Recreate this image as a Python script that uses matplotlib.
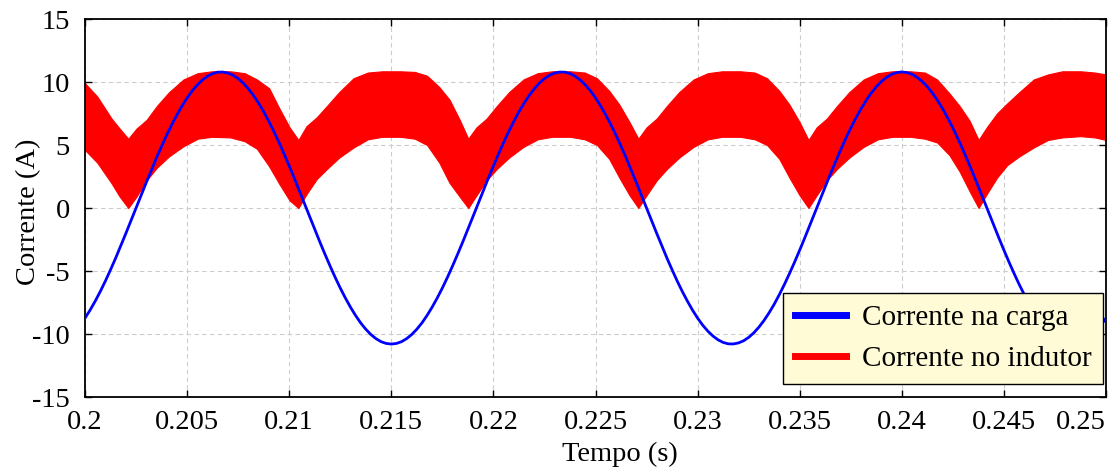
import numpy as np
import matplotlib
matplotlib.use("Agg")
import matplotlib.pyplot as plt
from matplotlib.lines import Line2D

plt.rcParams['font.family'] = ['Liberation Serif', 'DejaVu Serif']
plt.rcParams['axes.unicode_minus'] = False

# corrente na carga (A), amostras a cada 0.25 ms de 0.2 s a 0.25 s
load_t = np.linspace(0.2, 0.25, 201)
load_i = [-8.74, -8.10, -7.39, -6.62, -5.79, -4.90, -3.98, -3.01, -2.02, -1.02, 0.0, 1.02, 2.02, 3.01, 3.98, 4.90, 5.79, 6.62, 7.39, 8.10,
          8.74, 9.30, 9.77, 10.16, 10.46, 10.67, 10.78, 10.79, 10.71, 10.54, 10.27, 9.91, 9.46, 8.93, 8.32, 7.64, 6.88, 6.07, 5.20, 4.29,
          3.34, 2.36, 1.35, 0.34, -0.68, -1.69, -2.69, -3.66, -4.60, -5.50, -6.35, -7.14, -7.87, -8.53, -9.12, -9.62, -10.04, -10.37, -10.61, -10.75,
          -10.80, -10.75, -10.61, -10.37, -10.04, -9.62, -9.12, -8.53, -7.87, -7.14, -6.35, -5.50, -4.60, -3.66, -2.69, -1.69, -0.68, 0.34, 1.35, 2.36,
          3.34, 4.29, 5.20, 6.07, 6.88, 7.64, 8.32, 8.93, 9.46, 9.91, 10.27, 10.54, 10.71, 10.79, 10.78, 10.67, 10.46, 10.16, 9.77, 9.30,
          8.74, 8.10, 7.39, 6.62, 5.79, 4.90, 3.98, 3.01, 2.02, 1.02, 0.0, -1.02, -2.02, -3.01, -3.98, -4.90, -5.79, -6.62, -7.39, -8.10,
          -8.74, -9.30, -9.77, -10.16, -10.46, -10.67, -10.78, -10.79, -10.71, -10.54, -10.27, -9.91, -9.46, -8.93, -8.32, -7.64, -6.88, -6.07, -5.20, -4.29,
          -3.34, -2.36, -1.35, -0.34, 0.68, 1.69, 2.69, 3.66, 4.60, 5.50, 6.35, 7.14, 7.87, 8.53, 9.12, 9.62, 10.04, 10.37, 10.61, 10.75,
          10.80, 10.75, 10.61, 10.37, 10.04, 9.62, 9.12, 8.53, 7.87, 7.14, 6.35, 5.50, 4.60, 3.66, 2.69, 1.69, 0.68, -0.34, -1.35, -2.36,
          -3.34, -4.29, -5.20, -6.07, -6.88, -7.64, -8.32, -8.93, -9.46, -9.91, -10.27, -10.54, -10.71, -10.79, -10.78, -10.67, -10.46, -10.16, -9.77, -9.30,
          -8.74]

# corrente no indutor: envoltoria superior / inferior do ripple
ind_t = [0.2000, 0.2006, 0.2013, 0.2017,
         0.20212, 0.20252, 0.20302, 0.20352, 0.20412, 0.20482, 0.20552, 0.20622, 0.20712, 0.20782, 0.20842, 0.20902, 0.20952, 0.21002,
         0.21045, 0.21085, 0.21135, 0.21185, 0.21245, 0.21315, 0.21385, 0.21455, 0.21545, 0.21615, 0.21675, 0.21735, 0.21785, 0.21835,
         0.21877, 0.21917, 0.21967, 0.22017, 0.22077, 0.22147, 0.22217, 0.22287, 0.22377, 0.22447, 0.22507, 0.22567, 0.22617, 0.22667,
         0.22710, 0.22750, 0.22800, 0.22850, 0.22910, 0.22980, 0.23050, 0.23120, 0.23210, 0.23280, 0.23340, 0.23400, 0.23450, 0.23500,
         0.23543, 0.23583, 0.23633, 0.23683, 0.23743, 0.23813, 0.23883, 0.23953, 0.24043, 0.24113, 0.24173, 0.24233, 0.24283, 0.24333,
         0.24376, 0.24416, 0.24466, 0.24516, 0.24576, 0.24646, 0.24716, 0.24786, 0.24876, 0.24946, 0.2500]
ind_hi = [9.9, 8.85, 7.1, 6.3,
          5.5, 6.3, 7.0, 8.1, 9.2, 10.2, 10.7, 10.85, 10.85, 10.7, 10.2, 9.5, 7.9, 6.4,
          5.4, 6.5, 7.2, 8.1, 9.2, 10.3, 10.75, 10.85, 10.85, 10.8, 10.5, 9.6, 8.6, 7.0,
          5.5, 6.4, 7.1, 8.1, 9.2, 10.2, 10.7, 10.85, 10.85, 10.75, 10.3, 9.3, 8.2, 6.8,
          5.5, 6.4, 7.1, 8.1, 9.2, 10.2, 10.7, 10.85, 10.85, 10.75, 10.3, 9.3, 8.2, 6.8,
          5.4, 6.4, 7.1, 8.1, 9.2, 10.2, 10.7, 10.85, 10.85, 10.75, 10.2, 9.1, 8.1, 6.9,
          5.4, 6.4, 7.5, 8.3, 9.2, 10.2, 10.6, 10.85, 10.85, 10.75, 10.6]
ind_lo = [4.6, 3.6, 1.96, 0.9,
          0.0, 0.9, 2.2, 3.2, 4.1, 4.9, 5.5, 5.65, 5.6, 5.3, 4.7, 3.3, 1.9, 0.6,
          0.0, 1.1, 2.3, 3.1, 4.0, 4.8, 5.45, 5.65, 5.65, 5.5, 5.0, 3.6, 2.0, 0.9,
          0.0, 1.0, 2.2, 3.1, 4.0, 4.85, 5.45, 5.65, 5.65, 5.45, 5.0, 3.9, 2.4, 1.0,
          0.0, 1.0, 2.2, 3.1, 4.0, 4.85, 5.45, 5.65, 5.65, 5.45, 5.0, 3.9, 2.4, 1.0,
          0.0, 1.0, 2.2, 3.1, 4.0, 4.85, 5.45, 5.65, 5.65, 5.5, 5.2, 4.2, 2.9, 1.3,
          0.0, 1.1, 2.4, 3.4, 4.1, 4.8, 5.4, 5.6, 5.7, 5.6, 5.4]

xticks = [0.2, 0.205, 0.21, 0.215, 0.22, 0.225, 0.23, 0.235, 0.24, 0.245, 0.25]
xtick_labels = ['0.2', '0.205', '0.21', '0.215', '0.22', '0.225', '0.23', '0.235', '0.24', '0.245', '0.25']
yticks = [-15, -10, -5, 0, 5, 10, 15]
labels = ['Corrente na carga', 'Corrente no indutor']

fig = plt.figure(figsize=(11.2, 4.73), dpi=100)
ax = fig.add_axes([85/1120, 76/473, 1021/1120, 378/473])

ax.fill_between(ind_t, ind_lo, ind_hi, color='#ff0000', lw=0.8, edgecolor='#ff0000', zorder=2)
ax.plot(load_t, load_i, color='#0000ff', lw=2, zorder=3)

ax.set_xlim(0.2, 0.25)
ax.set_ylim(-15, 15)
ax.set_xticks(xticks)
ax.set_xticklabels(xtick_labels)
ax.get_xticklabels()[-1].set_ha('right')
ax.set_yticks(yticks)
ax.tick_params(direction='in', top=True, right=True, labelsize=20.5, length=5, width=1)
ax.tick_params(axis='x', pad=9)
ax.tick_params(axis='y', pad=11)
ax.grid(True, ls=(0, (4, 3)), color='#cccccc', lw=0.8)
ax.set_axisbelow(True)
for s in ax.spines.values():
    s.set_linewidth(1.3)

ax.set_xlabel('Tempo (s)', fontsize=20.5)
ax.xaxis.set_label_coords(0.524, -0.118)
ax.set_ylabel('Corrente (A)', fontsize=20.5)
ax.yaxis.set_label_coords(-0.043, 0.49)

handles = [Line2D([], [], color='#0000ff', lw=5), Line2D([], [], color='#ff0000', lw=5)]
leg = ax.legend(handles, labels, loc='lower right', bbox_to_anchor=(0.997, 0.034),
                borderaxespad=0, fontsize=21, fancybox=False, framealpha=1,
                facecolor='#fffbd6', edgecolor='black', handlelength=1.75,
                handletextpad=0.55, labelspacing=0.5, borderpad=0.4)
leg.get_frame().set_linewidth(1.0)
leg.set_zorder(5)

fig.savefig('out.png', dpi=100)
